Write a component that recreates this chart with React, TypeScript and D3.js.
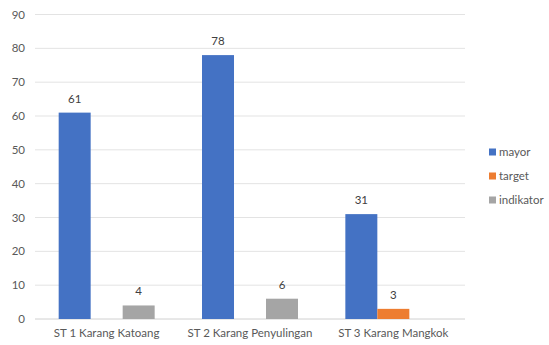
import React from 'react';
import * as d3 from 'd3';

const categories = ['ST 1 Karang Katoang', 'ST 2 Karang Penyulingan', 'ST 3 Karang Mangkok'];
const seriesNames = ['mayor', 'target', 'indikator'];
const mayor = [61, 78, 31];
const target = [null, null, 3];
const indikator = [4, 6, null];
const yTicks = [0, 10, 20, 30, 40, 50, 60, 70, 80, 90];
const colors = ['#4472C4', '#ED7D31', '#A5A5A5'];

const W = 549;
const H = 345;
const margin = { left: 35, right: 84, top: 14.5, bottom: 26 };
const font = 'Lato, "Open Sans", sans-serif';

export default function App() {
  const values = [mayor, target, indikator];
  const x0 = d3.scaleBand().domain(categories).range([margin.left, W - margin.right]).padding(0);
  const x1 = d3.scaleBand().domain(seriesNames).range([0, x0.bandwidth()]).paddingInner(0).paddingOuter(0.74);
  const y = d3.scaleLinear().domain([0, 90]).range([H - margin.bottom, margin.top]);

  return (
    <svg width={W} height={H} style={{ position: 'absolute', left: 0, top: 0, background: '#fff' }}
         fontFamily={font}>
      {yTicks.map(t => (
        <g key={t}>
          <line x1={margin.left} x2={W - margin.right} y1={y(t)} y2={y(t)}
                stroke={t === 0 ? '#d0d0d0' : '#e3e3e3'} strokeWidth={1} />
          <text x={25} y={y(t)} dy="0.35em" textAnchor="end" fontSize={11.5} fill="#595959">{t}</text>
        </g>
      ))}
      {categories.map((c, ci) => (
        <g key={c} transform={`translate(${x0(c)},0)`}>
          {seriesNames.map((s, si) => {
            const v = values[si][ci];
            if (v == null) return null;
            const bx = x1(s) as number;
            return (
              <g key={s}>
                <rect x={bx} y={y(v)} width={x1.bandwidth()} height={y(0) - y(v)} fill={colors[si]} />
                <text x={bx + x1.bandwidth() / 2} y={y(v) - 10} textAnchor="middle" fontSize={11.5}
                      fill="#404040">{v}</text>
              </g>
            );
          })}
          <text x={x0.bandwidth() / 2} y={337} textAnchor="middle" fontSize={11.5} fill="#595959">{c}</text>
        </g>
      ))}
      {seriesNames.map((s, i) => (
        <g key={s} transform={`translate(489,${152 + i * 24})`}>
          <rect x={0} y={-3.5} width={7} height={7} fill={colors[i]} />
          <text x={10} y={0} dy="0.35em" fontSize={11.5} fill="#595959">{s}</text>
        </g>
      ))}
    </svg>
  );
}
